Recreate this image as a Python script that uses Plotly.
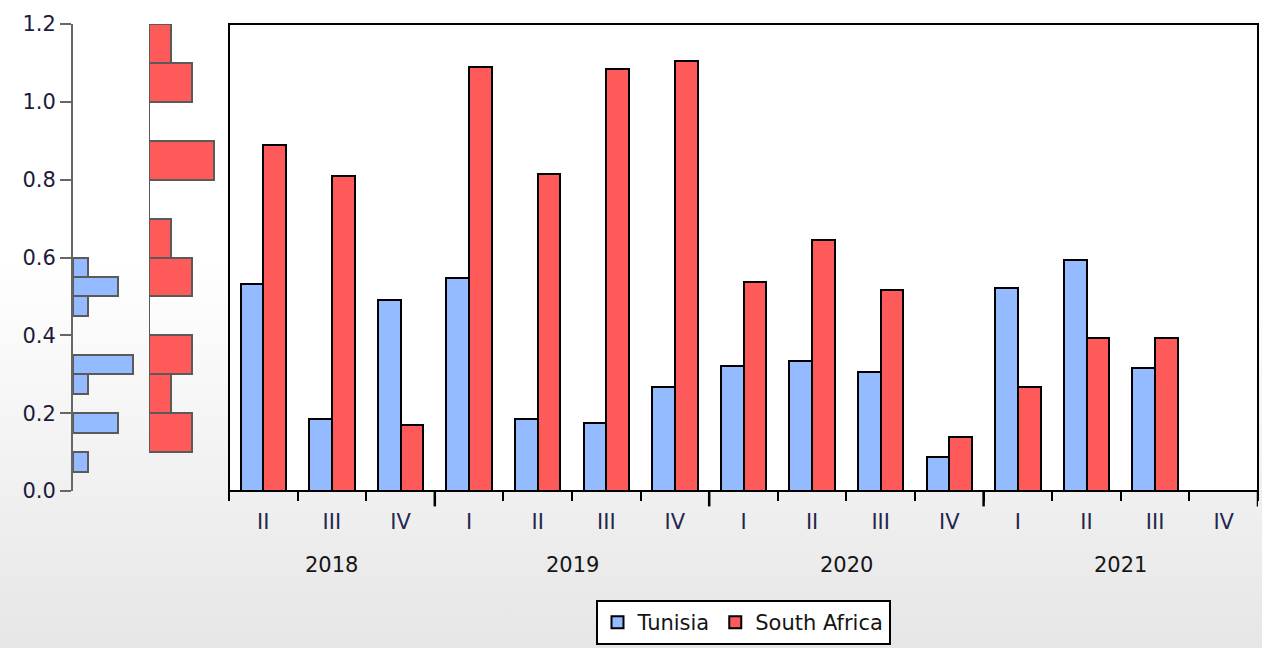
import base64
import math
import plotly.graph_objects as go

# ---------------- data ----------------
quarters = ["II", "III", "IV", "I", "II", "III", "IV", "I", "II", "III", "IV", "I", "II", "III", "IV"]
years = [2018, 2018, 2018, 2019, 2019, 2019, 2019, 2020, 2020, 2020, 2020, 2021, 2021, 2021, 2021]
tunisia = [0.532, 0.186, 0.490, 0.548, 0.186, 0.175, 0.268, 0.320, 0.335, 0.305, 0.088, 0.521, 0.594, 0.315, None]
south_africa = [0.888, 0.810, 0.170, 1.089, 0.815, 1.084, 1.105, 0.537, 0.645, 0.516, 0.139, 0.268, 0.392, 0.392, None]
y_ticks = [0.0, 0.2, 0.4, 0.6, 0.8, 1.0, 1.2]

# ---------------- style ----------------
W, H = 1262, 648
BLUE = "#94BAFF"
RED = "#FF5A5A"
FONT = "DejaVu Sans, Liberation Sans, Arial, sans-serif"
FS = 21

def px_x(a, b):
    return [a / W, b / W]

def px_y(top, bottom):
    return [1 - bottom / H, 1 - top / H]

main_x = px_x(229, 1258)
hist_tn_x = px_x(73, 148)
hist_sa_x = px_x(149, 229)
ydom = px_y(24, 491)

idx = list(range(len(quarters)))
bw = 0.33

fig = go.Figure()

# main grouped bars
fig.add_trace(go.Bar(
    x=idx, y=tunisia, name="Tunisia", width=bw, offset=-bw,
    marker=dict(color=BLUE, line=dict(color="black", width=2)),
    xaxis="x", yaxis="y"))
fig.add_trace(go.Bar(
    x=idx, y=south_africa, name="South Africa", width=bw, offset=0,
    marker=dict(color=RED, line=dict(color="black", width=2)),
    xaxis="x", yaxis="y"))

# marginal histograms
tn_vals = [v for v in tunisia if v is not None]
sa_vals = [v for v in south_africa if v is not None]
fig.add_trace(go.Histogram(
    y=tn_vals, orientation="h", ybins=dict(start=0, end=1.2, size=0.05),
    marker=dict(color=BLUE, line=dict(color="#5a5a5a", width=2)),
    showlegend=False, xaxis="x2", yaxis="y", hoverinfo="skip"))
fig.add_trace(go.Histogram(
    y=sa_vals, orientation="h", ybins=dict(start=0, end=1.2, size=0.1),
    marker=dict(color=RED, line=dict(color="#5a5a5a", width=2)),
    showlegend=False, xaxis="x3", yaxis="y", hoverinfo="skip"))
sa_lo = math.floor(min(sa_vals) / 0.1) * 0.1
sa_hi = math.ceil(max(sa_vals) / 0.1) * 0.1
fig.add_trace(go.Scatter(
    x=[0, 0], y=[sa_lo, sa_hi], mode="lines", line=dict(color="#5a5a5a", width=2),
    showlegend=False, xaxis="x3", yaxis="y", hoverinfo="skip"))

# background gradient
svg = (
    '<svg xmlns="http://www.w3.org/2000/svg" width="100" height="100" preserveAspectRatio="none">'
    '<defs><linearGradient id="g" x1="0" y1="0" x2="0" y2="1">'
    '<stop offset="0" stop-color="#ffffff"/><stop offset="0.4" stop-color="#ffffff"/>'
    '<stop offset="1" stop-color="#e6e6e6"/></linearGradient></defs>'
    '<rect width="100" height="100" fill="url(#g)"/></svg>'
)
src = "data:image/svg+xml;base64," + base64.b64encode(svg.encode()).decode()

shapes = [
    dict(type="rect", xref="x domain", yref="y domain", x0=0, x1=1, y0=0, y1=1,
         fillcolor="white", line=dict(width=0), layer="below"),
    dict(type="rect", xref="x domain", yref="y domain", x0=0, x1=1, y0=0, y1=1,
         fillcolor="rgba(0,0,0,0)", line=dict(color="black", width=2), layer="above"),
]
# long ticks at year ends
for i in idx:
    if i == len(idx) - 1 or years[i + 1] != years[i]:
        shapes.append(dict(type="line", xref="x", yref="y domain", x0=i + 0.5, x1=i + 0.5,
                           y0=0, y1=-0.033, line=dict(color="black", width=2.5)))

annotations = []
for yr in sorted(set(years)):
    pos = [i for i in idx if years[i] == yr]
    annotations.append(dict(text=str(yr), x=sum(pos) / len(pos), xref="x",
                            y=1 - 565 / H, yref="paper", yanchor="middle", showarrow=False,
                            font=dict(family=FONT, size=FS, color="#151515")))

fig.update_layout(
    width=W, height=H,
    margin=dict(l=0, r=0, t=0, b=0, autoexpand=False),
    paper_bgcolor="white",
    plot_bgcolor="rgba(0,0,0,0)",
    barmode="overlay", bargap=0,
    showlegend=True,
    legend=dict(orientation="h", x=743 / W, xanchor="center", y=1 - 600 / H, yanchor="top",
                bgcolor="white", bordercolor="black", borderwidth=2,
                font=dict(family=FONT, size=FS, color="#151515")),
    xaxis=dict(domain=main_x, anchor="y", range=[-0.5, len(idx) - 0.5], automargin=False,
               tickmode="array", tickvals=idx, ticktext=quarters, ticks="",
               showgrid=False, zeroline=False, showline=False,
               ticklabelstandoff=16,
               tickfont=dict(family=FONT, size=FS, color="#26264d"),
               minor=dict(tickmode="array", tickvals=[i - 0.5 for i in idx] + [len(idx) - 0.5],
                          ticks="outside", ticklen=9, tickwidth=2, tickcolor="black",
                          showgrid=False)),
    xaxis2=dict(domain=hist_tn_x, anchor="y", range=[0, 5], visible=False, fixedrange=True,
                automargin=False),
    xaxis3=dict(domain=hist_sa_x, anchor="y", range=[0, 80 / 21.5], visible=False, fixedrange=True,
                automargin=False),
    yaxis=dict(domain=ydom, anchor="x2", range=[0, 1.2], tickmode="array", tickvals=y_ticks,
               automargin=False,
               tickformat=".1f", ticks="outside", ticklen=11, tickwidth=2, tickcolor="#666",
               showline=True, linecolor="#666", linewidth=2, showgrid=False, zeroline=False,
               tickfont=dict(family=FONT, size=FS, color="#1c1c3a")),
    images=[dict(source=src, xref="paper", yref="paper", x=0, y=1, sizex=1, sizey=1,
                 xanchor="left", yanchor="top", sizing="stretch", layer="below")],
    shapes=shapes,
    annotations=annotations,
)

fig.write_html("out.html")
